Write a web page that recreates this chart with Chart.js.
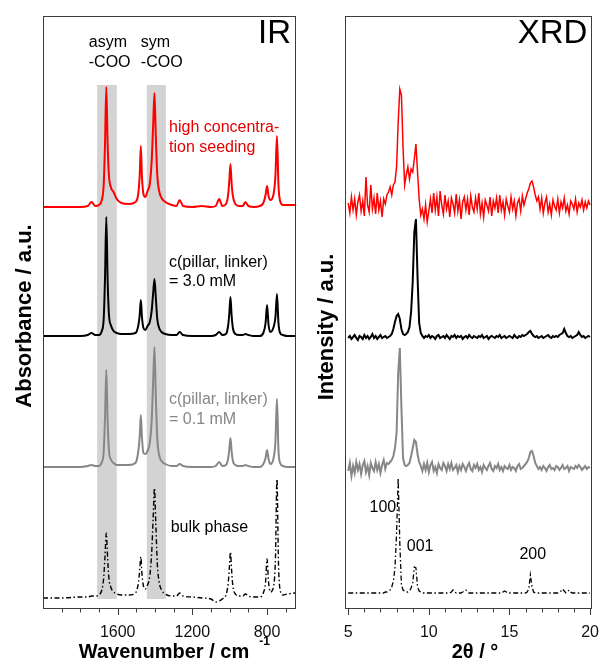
<!DOCTYPE html>
<html>
<head>
<meta charset="utf-8">
<script src="https://cdn.jsdelivr.net/npm/chart.js@4.4.1/dist/chart.umd.min.js"></script>
<style>
  body { margin: 0; background: #fff; }
  #wrap { position: relative; width: 605px; height: 661px; }
  canvas { position: absolute; top: 0; }
</style>
</head>
<body>
<div id="wrap">
  <canvas id="irChart" width="303" height="661" style="left:0"></canvas>
  <canvas id="xrdChart" width="302" height="661" style="left:303px"></canvas>
</div>
<script>
// ---- IR data (wavenumber grid shared by all four spectra) ----
const irWavenumber = [
  2000, 1900, 1800, 1760, 1740, 1720, 1700, 1685, 1675, 1668,
  1661, 1654, 1647, 1635, 1622, 1605, 1580, 1540, 1505, 1490,
  1482, 1476, 1470, 1462, 1452, 1440, 1428, 1418, 1410, 1403,
  1396, 1388, 1378, 1365, 1345, 1310, 1285, 1268, 1250, 1200,
  1150, 1100, 1075, 1056, 1040, 1020, 1008, 1002, 996, 990,
  983, 970, 950, 930, 916, 900, 870, 840, 820, 808,
  800, 792, 782, 765, 755, 747, 739, 730, 715, 690,
  650
];
const irHighConc = [
  0, 0, 0, 1, 5, 1, 2, 7, 22, 62,
  120, 64, 32, 19, 15, 8, 4, 3, 5, 13,
  32, 61, 30, 13, 10, 16, 23, 46, 82, 114,
  72, 32, 16, 9, 5, 2, 1, 7, 1, 0,
  1, 0, 1, 8, 1, 3, 13, 27, 43, 24,
  11, 3, 1, 1, 5, 1, 0, 1, 4, 12,
  21, 11, 7, 13, 32, 71, 22, 6, 2, 2,
  2
];
const irMid = [
  0, 0, 0, 1, 3, 1, 1, 5, 17, 57,
  119, 57, 22, 10, 5, 3, 2, 2, 3, 10,
  21, 36, 19, 8, 6, 10, 14, 25, 43, 57,
  39, 17, 8, 4, 2, 1, 1, 4, 1, 0,
  0, 0, 1, 4, 1, 2, 11, 23, 39, 21,
  8, 2, 1, 1, 2, 1, 0, 0, 3, 13,
  31, 11, 4, 9, 19, 42, 13, 3, 1, 0,
  0
];
const irLow = [
  0, 0, 0, 1, 2, 1, 1, 5, 15, 49,
  97, 47, 17, 7, 4, 2, 2, 2, 4, 15,
  31, 52, 29, 14, 13, 16, 24, 46, 86, 120,
  72, 29, 12, 6, 3, 1, 1, 3, 1, 0,
  0, 0, 1, 5, 1, 2, 9, 18, 29, 16,
  6, 2, 1, 1, 2, 1, 0, 0, 3, 9,
  17, 8, 3, 9, 26, 68, 17, 4, 1, 0,
  0
];
const irBulk = [
  0, 0, 1, 1, 2, 2, 3, 8, 20, 42,
  65, 40, 20, 10, 6, 4, 3, 3, 5, 14,
  28, 41, 24, 12, 9, 13, 22, 45, 80, 110,
  75, 35, 16, 8, 4, 2, 2, 5, 2, 1,
  0, -1, -4, -3, -1, 3, 15, 30, 46, 28,
  12, 4, 2, 2, 4, 2, 1, 1, 5, 16,
  39, 16, 6, 12, 40, 119, 35, 8, 3, 4,
  5
];
const irOffsets = [402, 273, 142, 11];
const irTicks = [1900, 1800, 1700, 1600, 1500, 1400, 1300, 1200, 1100, 1000, 900, 800, 700];
const irTickLabels = [1600, 1200, 800];
const irBands = [[1710, 1605], [1444, 1342]];

// ---- XRD data (2theta sampled every 0.1 deg from 5 to 20) ----
const xrdStart = 5, xrdStepSize = 0.1;
const xrdHighConc = [
  4, -6, 10, -3, 8, -8, 5, 12, -4, 6,
  -9, 30, 2, -5, 22, -2, 9, -7, 14, -3,
  6, -10, 8, 3, 12, 15, 20, 12, 22, 25,
  40, 85, 118, 112, 60, 22, 32, 40, 28, 38,
  35, 48, 63, 35, 8, -8, -2, -12, 2, -15,
  -4, 8, -6, 14, -3, 10, -9, 16, 2, -7,
  12, -2, 6, -10, 9, 3, -6, 13, -4, 7,
  -12, 5, 10, -3, 8, -8, 11, 0, -5, 9,
  -2, 14, -7, 4, -10, 7, 2, -4, 10, -9,
  6, -1, 9, -6, 12, -3, 5, -8, 8, 1,
  -5, 10, -2, 6, -9, 4, 8, -4, 11, 2,
  8, 14, 18, 24, 26, 20, 12, 6, 10, -2,
  9, -6, 4, 10, -5, 3, -8, 7, 1, -3,
  8, -6, 5, -1, 9, -4, 2, -7, 6, 3,
  -2, 8, -5, 4, 0, 7, -3, 5, -1, 6,
  2
];
const xrdMid = [
  -1, 1, -2, 0, 2, -1, -3, 1, 0, -2,
  2, -1, 1, -2, 0, 3, -1, 1, -2, 0,
  2, -1, 0, 1, -1, 0, 1, 3, 8, 15,
  21, 23, 18, 8, 3, 2, 3, 5, 10, 25,
  55, 105, 118, 60, 14, 4, 1, -1, 1, 0,
  2, -1, 1, 0, -2, 1, 2, -1, 0, 1,
  -1, 2, 0, -2, 1, 0, 2, -1, 1, 0,
  1, -2, 0, 1, -1, 2, 0, -1, 1, 0,
  -1, 1, 0, 2, -1, 0, 1, -2, 0, 1,
  0, -1, 1, 0, 2, -1, 0, 1, -1, 0,
  1, 0, -1, 2, 0, -1, 1, 0, 2, 1,
  2, 3, 5, 6, 3, 1, 0, 1, -1, 0,
  1, -1, 0, 1, 2, 0, -1, 1, 0, 1,
  0, 2, 3, 4, 8, 4, 1, 0, 1, -1,
  0, 1, 2, 5, 2, 0, 1, -1, 0, 1,
  0
];
const xrdLow = [
  -3, 5, -8, 2, -5, 6, -2, 4, -6, 3,
  7, -4, 2, -7, 5, 0, -3, 6, -2, 4,
  -5, 3, 8, -1, 5, 4, 6, 8, 12, 20,
  35, 95, 120, 60, 10, 3, 2, 3, 5, 12,
  20, 28, 26, 14, 6, 2, -3, 4, -2, 5,
  -4, 3, 6, -3, 1, -5, 4, 0, -2, 5,
  2, -3, 4, -1, 5, -2, 0, 3, -4, 2,
  -2, 4, 1, -3, 2, 5, -1, -3, 3, 0,
  4, -2, 1, -4, 3, 0, -2, 2, 5, -1,
  -3, 2, 0, 4, -2, 1, -3, 2, 0, -1,
  3, -2, 1, 0, -3, 2, 4, -1, 0, 2,
  4, 6, 10, 16, 17, 12, 5, 2, -1, 1,
  -2, 2, 0, -3, 1, 3, -1, 0, -2, 2,
  1, -2, 0, 3, -1, 0, 2, -3, 1, 0,
  -1, 2, 0, 3, 1, -2, 0, 2, -1, 1,
  0
];
const xrdBulk = [
  0, 0, 0, 0, 0, 0, 0, 0, 0, 0,
  0, 0, 0, 0, 0, 0, 0, 0, 0, 0,
  0, 0, 0, 1, 1, 2, 3, 6, 12, 25,
  60, 115, 50, 8, 3, 2, 1, 1, 2, 5,
  10, 26, 25, 6, 2, 1, 0, 0, 0, 0,
  0, 0, 0, 0, 0, 0, 0, 0, 0, 0,
  0, 0, 0, 0, 1, 3, 1, 0, 0, 0,
  0, 1, 2, 3, 1, 0, 0, 0, 0, 0,
  0, 0, 0, 0, 0, 0, 0, 0, 0, 0,
  0, 0, 0, 0, 0, 1, 1, 2, 1, 0,
  0, 0, 0, 0, 0, 0, 0, 0, 0, 0,
  0, 1, 4, 18, 6, 1, 0, 0, 0, 0,
  0, 0, 0, 0, 0, 0, 0, 0, 0, 0,
  0, 1, 2, 4, 2, 0, 1, 3, 1, 0,
  0, 0, 0, 0, 0, 0, 0, 0, 0, 0,
  0
];
const xrdOffsets = [402, 272, 141, 16];
const xrdTicks = [5, 6, 7, 8, 9, 10, 11, 12, 13, 14, 15, 16, 17, 18, 19, 20];
const xrdTickLabels = [5, 10, 15, 20];

const RED = "#ff0000", BLACK = "#000000", GRAY = "#878787";
const FONT = "'Liberation Sans', Arial, sans-serif";

// text notes placed in data coordinates: [text, x, y, colour]
const irNotes = [
  ["asym", 1755, 566, BLACK], ["-COO", 1755, 546, BLACK],
  ["sym", 1476, 566, BLACK], ["-COO", 1476, 546, BLACK],
  ["high concentra-", 1325, 481, "#e60000"], ["tion seeding", 1325, 461, "#e60000"],
  ["c(pillar, linker)", 1325, 346, BLACK], ["= 3.0 mM", 1325, 327, BLACK],
  ["c(pillar, linker)", 1325, 209, GRAY], ["= 0.1 mM", 1325, 189, GRAY],
  ["bulk phase", 1316, 81, BLACK]
];
const xrdNotes = [
  ["100", 6.32, 101, BLACK], ["001", 8.63, 62, BLACK], ["200", 15.62, 54, BLACK]
];

function xrdAngle(i) {
  return +(xrdStart + i * xrdStepSize).toFixed(1);
}

function series(xs, ys, offset) {
  return ys.map((v, i) => ({ x: typeof xs === "function" ? xs(i) : xs[i], y: v + offset }));
}

function makeDecor(cfg) {
  return {
    id: "decor",
    beforeDatasetsDraw(chart) {
      const { ctx, scales: { x, y } } = chart;
      ctx.save();
      ctx.fillStyle = "#d3d3d3";
      (cfg.bands || []).forEach(b => {
        const x1 = x.getPixelForValue(b[0]), x2 = x.getPixelForValue(b[1]);
        const yTop = y.getPixelForValue(cfg.bandTop), yBot = y.getPixelForValue(cfg.bandBottom);
        ctx.fillRect(Math.min(x1, x2), yTop, Math.abs(x2 - x1), yBot - yTop);
      });
      ctx.restore();
    },
    afterDraw(chart) {
      const { ctx, chartArea: a, scales: { x, y } } = chart;
      ctx.save();
      // frame
      ctx.strokeStyle = "#3c3c3c";
      ctx.lineWidth = 1;
      ctx.strokeRect(Math.round(a.left) + 0.5, Math.round(a.top) + 0.5,
        Math.round(a.right - a.left) - 1, Math.round(a.bottom - a.top) - 1);
      // tick marks, longer on labelled ticks
      ctx.beginPath();
      x.ticks.forEach(t => {
        const px = Math.round(x.getPixelForValue(t.value)) + 0.5;
        const len = t.label ? 6 : 3.5;
        ctx.moveTo(px, a.bottom);
        ctx.lineTo(px, a.bottom + len);
      });
      ctx.stroke();
      // notes
      ctx.font = "16px " + FONT;
      ctx.textAlign = "left";
      ctx.textBaseline = "middle";
      cfg.notes.forEach(n => {
        ctx.fillStyle = n[3];
        ctx.fillText(n[0], x.getPixelForValue(n[1]), y.getPixelForValue(n[2]));
      });
      // panel label
      ctx.fillStyle = "#000";
      ctx.font = "33px " + FONT;
      ctx.textAlign = "right";
      ctx.textBaseline = "alphabetic";
      ctx.fillText(cfg.label, a.right - 5, a.top + 27);
      // x title
      ctx.font = "bold 20px " + FONT;
      ctx.textAlign = "center";
      ctx.fillText(cfg.xTitle, cfg.xTitleX, 658);
      if (cfg.xSup) {
        const w = ctx.measureText(cfg.xTitle).width;
        ctx.font = "bold 12px " + FONT;
        ctx.textAlign = "left";
        ctx.fillText(cfg.xSup, cfg.xTitleX + w / 2 + 10, 645);
      }
      // y title
      ctx.translate(cfg.yTitleX, cfg.yTitleY);
      ctx.rotate(-Math.PI / 2);
      ctx.font = "bold 22px " + FONT;
      ctx.textAlign = "center";
      ctx.textBaseline = "middle";
      ctx.fillText(cfg.yTitle, 0, 0);
      ctx.restore();
    }
  };
}

function lineSet(data, color, width, dash, smooth) {
  return {
    data: data,
    borderColor: color,
    borderWidth: width,
    borderDash: dash || [],
    pointRadius: 0,
    fill: false,
    cubicInterpolationMode: smooth ? "monotone" : "default",
    tension: 0
  };
}

function panelOptions(xMin, xMax, reverse, tickValues, tickLabels, yWidth) {
  return {
    responsive: false,
    animation: false,
    devicePixelRatio: 1,
    layout: { padding: { top: 16, right: 7, left: 0, bottom: 0 } },
    plugins: { legend: { display: false }, tooltip: { enabled: false } },
    scales: {
      x: {
        type: "linear",
        min: xMin,
        max: xMax,
        reverse: reverse,
        grid: { display: false },
        border: { display: false },
        afterBuildTicks: (scale) => { scale.ticks = tickValues.map(v => ({ value: v })); },
        afterFit: (scale) => { scale.height = 52; },
        ticks: {
          autoSkip: false,
          maxRotation: 0,
          padding: 6,
          color: "#111",
          font: { family: FONT, size: 16 },
          callback: (value) => tickLabels.includes(value) ? String(value) : ""
        }
      },
      y: {
        min: 0,
        max: 593,
        grid: { display: false },
        border: { display: false },
        ticks: { display: false },
        afterFit: (scale) => { scale.width = yWidth; }
      }
    }
  };
}

const bulkDash = [5, 2.5, 1.5, 2.5];

new Chart(document.getElementById("irChart").getContext("2d"), {
  type: "line",
  data: {
    datasets: [
      lineSet(series(irWavenumber, irHighConc, irOffsets[0]), RED, 2, null, true),
      lineSet(series(irWavenumber, irMid, irOffsets[1]), BLACK, 2, null, true),
      lineSet(series(irWavenumber, irLow, irOffsets[2]), GRAY, 2, null, true),
      lineSet(series(irWavenumber, irBulk, irOffsets[3]), BLACK, 1.4, bulkDash, true)
    ]
  },
  options: panelOptions(645, 2000, true, irTicks, irTickLabels, 43),
  plugins: [makeDecor({
    bands: irBands, bandTop: 524, bandBottom: 10,
    notes: irNotes, label: "IR",
    xTitle: "Wavenumber / cm", xSup: "-1", xTitleX: 164,
    yTitle: "Absorbance / a.u.", yTitleX: 25, yTitleY: 316
  })]
});

new Chart(document.getElementById("xrdChart").getContext("2d"), {
  type: "line",
  data: {
    datasets: [
      lineSet(series(xrdAngle, xrdHighConc, xrdOffsets[0]), RED, 1.5),
      lineSet(series(xrdAngle, xrdMid, xrdOffsets[1]), BLACK, 2),
      lineSet(series(xrdAngle, xrdLow, xrdOffsets[2]), GRAY, 2),
      lineSet(series(xrdAngle, xrdBulk, xrdOffsets[3]), BLACK, 1.3, bulkDash)
    ]
  },
  options: panelOptions(4.8, 20.15, false, xrdTicks, xrdTickLabels, 42),
  plugins: [makeDecor({
    notes: xrdNotes, label: "XRD",
    xTitle: "2\u03b8 / \u00b0", xTitleX: 172,
    yTitle: "Intensity / a.u.", yTitleX: 24, yTitleY: 327
  })]
});
</script>
</body>
</html>
